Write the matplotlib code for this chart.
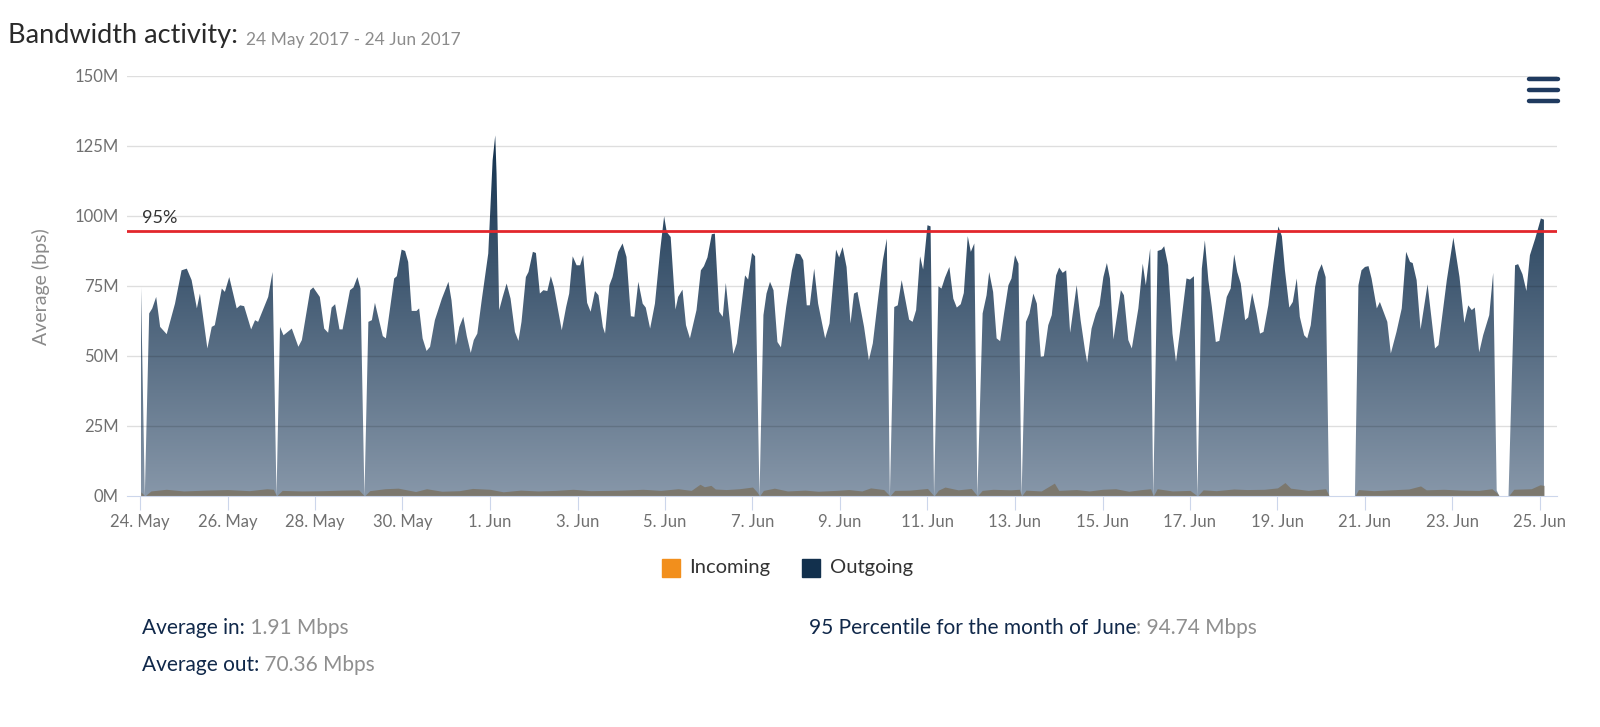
import datetime as dt
import numpy as np
import matplotlib
matplotlib.use('Agg')
import matplotlib.pyplot as plt
from matplotlib.colors import LinearSegmentedColormap
from matplotlib.patches import PathPatch, Rectangle
from matplotlib.lines import Line2D

plt.rcParams['font.family'] = ['Lato', 'DejaVu Sans']

# data: days since 24 May 2017 00:00, values in Mbps
start = dt.date(2017, 5, 24)

out_days = [
    0.02, 0.11, 0.21, 0.28, 0.37, 0.46, 0.61, 0.80, 0.95, 1.07, 1.18, 1.30, 1.37, 1.54, 1.64, 1.71,
    1.87, 1.94, 2.04, 2.21, 2.29, 2.38, 2.54, 2.63, 2.70, 2.93, 3.03, 3.12,
    3.20, 3.28, 3.47, 3.62, 3.70, 3.89, 3.96, 4.11, 4.21, 4.30, 4.38, 4.46, 4.56, 4.63, 4.80, 4.88,
    4.97, 5.04, 5.13,
    5.22, 5.30, 5.37, 5.55, 5.62, 5.81, 5.87, 5.98, 6.06, 6.13, 6.21, 6.32, 6.38, 6.46, 6.55, 6.63,
    6.74, 6.90, 7.05, 7.12, 7.22, 7.30, 7.39, 7.47, 7.56, 7.63, 7.71, 7.81, 7.96, 8.06, 8.12, 8.15,
    8.21, 8.29, 8.38, 8.47, 8.57, 8.65, 8.72, 8.82, 8.88, 8.98, 9.05, 9.14, 9.22, 9.31, 9.39, 9.46,
    9.64, 9.74, 9.81, 9.89, 9.98, 10.06, 10.13, 10.22, 10.30, 10.40, 10.48, 10.58, 10.63, 10.73,
    10.80, 10.93, 11.03, 11.12, 11.22, 11.30, 11.39, 11.49, 11.56, 11.66, 11.77, 11.89, 11.98,
    12.04, 12.13, 12.24, 12.30, 12.40, 12.48, 12.57, 12.72, 12.82, 12.89, 12.97, 13.07, 13.14,
    13.24, 13.32, 13.39, 13.56, 13.64, 13.83, 13.90, 13.99, 14.06, 14.16,
    14.25, 14.32, 14.40, 14.48, 14.57, 14.65, 14.77, 14.90, 14.99, 15.09, 15.16, 15.24, 15.31,
    15.41, 15.50, 15.66, 15.76, 15.91, 15.98, 16.06, 16.15, 16.24, 16.32, 16.40, 16.55, 16.66,
    16.75, 16.88, 16.98, 17.07, 17.14,
    17.24, 17.32, 17.41, 17.58, 17.66, 17.74, 17.83, 17.90, 18.00, 18.07, 18.15,
    18.25, 18.32, 18.40, 18.50, 18.59, 18.67, 18.76, 18.83, 18.92, 18.99, 19.07, 19.14,
    19.26, 19.35, 19.41, 19.50, 19.58, 19.66, 19.75, 19.85, 19.92, 20.00, 20.08, 20.15,
    20.25, 20.33, 20.42, 20.50, 20.59, 20.66, 20.76, 20.84, 20.94, 21.01, 21.09, 21.17, 21.26,
    21.41, 21.50, 21.60, 21.65, 21.75, 21.85, 21.93, 22.02, 22.10, 22.17, 22.25, 22.34, 22.42,
    22.49, 22.59, 22.67, 22.82, 22.92, 22.99, 23.09, 23.16,
    23.26, 23.35, 23.41, 23.50, 23.60, 23.68, 23.77, 23.92, 24.00, 24.09, 24.17,
    24.27, 24.34, 24.42, 24.50, 24.59, 24.67, 24.84, 24.93, 25.01, 25.08, 25.16, 25.26, 25.33,
    25.42, 25.52, 25.60, 25.68, 25.79, 25.90, 26.02, 26.10, 26.17, 26.27, 26.35, 26.44, 26.51,
    26.61, 26.68, 26.76, 26.86, 26.93, 27.01, 27.10, 27.18,
    27.77, 27.85, 27.92, 28.00, 28.08, 28.15, 28.27, 28.34, 28.51, 28.59, 28.72, 28.84, 28.94,
    29.03, 29.09, 29.18, 29.27, 29.43, 29.60, 29.68, 29.87, 30.02, 30.16, 30.27, 30.36, 30.44,
    30.51, 30.61, 30.70, 30.84, 30.93, 31.01, 31.07,
    31.28, 31.43, 31.50, 31.60, 31.69, 31.77, 31.89, 32.02, 32.09,
]
out_mbps = [
    77.1, 0, 65.2, 67.0, 71.1, 60.4, 57.8, 68.7, 80.6, 81.2, 77.1, 67.0, 72.3, 52.7, 60.4, 61.0,
    74.1, 72.9, 78.2, 67.0, 68.1, 67.8, 59.5, 62.8, 62.2, 71.1, 80.0, 0,
    60.4, 57.4, 59.8, 53.3, 55.7, 73.5, 74.5, 71.1, 59.8, 58.3, 67.3, 68.5, 59.5, 59.5, 73.5, 74.5,
    78.2, 74.1, 0,
    62.2, 62.8, 69.0, 57.1, 56.3, 77.7, 78.5, 88.0, 87.5, 83.6, 66.1, 66.1, 67.0, 56.3, 51.8, 53.3,
    62.8, 70.5, 76.5, 69.9, 53.9, 60.4, 64.0, 57.1, 51.1, 55.7, 58.0, 69.9, 86.6, 119.9, 128.8, 115.1,
    66.4, 71.1, 75.9, 70.5, 58.6, 55.4, 62.2, 78.2, 80.0, 87.2, 86.8, 72.3, 73.5, 73.2, 78.5, 74.7,
    59.2, 67.5, 72.3, 85.6, 82.4, 82.4, 86.0, 69.0, 65.8, 73.2, 71.7, 60.4, 58.0, 75.3,
    78.2, 87.2, 90.2, 85.4, 64.2, 64.0, 76.5, 68.7, 67.3, 59.8, 68.7, 87.8, 99.9,
    94.3, 92.5, 66.6, 71.1, 73.7, 61.0, 56.3, 66.4, 80.6, 82.1, 85.2, 93.5, 93.7,
    65.8, 64.0, 76.1, 50.7, 54.5, 78.8, 77.3, 86.8, 85.6, 0,
    64.6, 72.3, 76.5, 73.5, 55.0, 53.1, 67.5, 80.6, 86.6, 86.3, 84.2, 68.1, 68.1,
    81.2, 68.7, 56.3, 61.6, 88.0, 85.2, 88.9, 81.8, 61.6, 72.3, 72.9, 60.4, 48.5,
    54.5, 71.7, 84.2, 91.9, 0,
    67.5, 68.1, 77.1, 63.0, 62.2, 66.4, 85.6, 80.9, 96.7, 96.3, 0,
    74.9, 74.1, 78.0, 81.8, 70.5, 67.3, 68.5, 72.5, 92.8, 87.2, 90.2, 0,
    65.2, 71.7, 80.0, 72.9, 56.3, 55.3, 65.2, 75.3, 77.7, 86.0, 83.0, 0,
    62.2, 65.2, 72.3, 68.7, 49.7, 49.9, 61.0, 64.6, 78.8, 81.6, 79.7, 80.6, 58.3,
    75.3, 62.8, 52.1, 47.6, 59.8, 65.2, 68.1, 78.2, 83.2, 77.7, 55.9, 65.2, 73.5,
    71.7, 55.7, 52.7, 67.0, 83.0, 75.3, 88.4, 0,
    87.5, 88.0, 89.2, 82.4, 58.0, 47.9, 58.6, 77.7, 77.3, 78.5, 0,
    81.2, 91.3, 77.1, 67.5, 55.0, 55.4, 71.1, 74.1, 86.3, 80.0, 75.9, 62.8, 63.8,
    72.5, 65.2, 58.0, 58.6, 68.1, 82.4, 96.3, 92.8, 80.6, 67.3, 69.3, 77.7, 64.0,
    57.4, 56.3, 61.0, 74.7, 80.0, 82.8, 78.2, 0,
    0, 75.3, 80.6, 81.8, 82.1, 77.7, 67.0, 69.3, 62.2, 50.9, 58.6, 67.0, 87.2,
    83.6, 83.2, 77.1, 59.5, 75.6, 52.7, 53.9, 77.1, 92.3, 78.2, 61.8, 68.1, 66.4,
    67.3, 51.3, 57.4, 64.6, 79.7, 2.0, 0,
    0, 82.4, 82.8, 79.2, 73.2, 86.0, 91.9, 99.1, 98.7,
]

in_days = [
    0.02, 0.11, 0.25, 0.6, 1.0, 1.5, 2.0, 2.5, 2.9, 3.05, 3.12, 3.25, 3.7, 4.2, 4.6, 5.0, 5.13,
    5.25, 5.6, 5.9, 6.3, 6.55, 6.9, 7.3, 7.6, 8.0, 8.3, 8.7, 9.1, 9.5, 9.9, 10.3, 10.7, 11.0,
    11.5, 11.9, 12.3, 12.6, 12.8, 12.9, 13.05, 13.15, 13.4, 13.7, 14.0, 14.1, 14.16,
    14.25, 14.5, 14.8, 15.2, 15.5, 15.9, 16.2, 16.5, 16.7, 17.0, 17.14,
    17.25, 17.6, 18.0, 18.15, 18.25, 18.4, 18.7, 19.0, 19.14, 19.25, 19.5, 19.9, 20.1, 20.15,
    20.25, 20.6, 20.9, 21.0, 21.4, 21.7, 22.0, 22.3, 22.6, 22.9, 23.1, 23.16,
    23.25, 23.6, 24.0, 24.17, 24.3, 24.6, 25.0, 25.3, 25.7, 26.0, 26.17, 26.3, 26.7, 27.1, 27.18,
    27.77, 27.85, 28.2, 28.6, 29.0, 29.27, 29.4, 29.8, 30.2, 30.6, 30.9, 31.01, 31.07,
    31.28, 31.4, 31.8, 32.0, 32.09,
]
in_mbps = [
    1.5, 0, 1.8, 2.4, 1.8, 2.1, 2.3, 1.9, 2.6, 2.4, 0, 2.0, 1.8, 1.9, 2.1, 2.2, 0,
    1.9, 2.6, 2.8, 1.6, 2.6, 1.7, 1.9, 2.7, 2.4, 1.5, 2.1, 1.8, 2.0, 2.4, 1.9, 2.0, 2.1,
    2.4, 2.0, 2.6, 2.0, 4.2, 3.3, 3.8, 2.5, 2.3, 2.6, 3.2, 1.5, 0,
    2.0, 2.8, 1.8, 2.1, 1.7, 2.0, 2.3, 1.8, 2.9, 2.3, 0,
    2.0, 2.1, 2.7, 0, 2.1, 3.2, 2.2, 2.7, 0, 2.0, 2.4, 2.2, 2.4, 0,
    2.1, 1.8, 4.6, 2.0, 2.3, 1.8, 2.4, 2.6, 1.7, 2.3, 2.6, 0,
    2.6, 1.8, 2.0, 0, 2.2, 1.9, 2.5, 2.3, 2.4, 2.9, 4.8, 2.8, 2.0, 2.6, 0,
    0, 2.3, 1.9, 2.2, 2.5, 3.6, 2.2, 2.4, 2.1, 2.0, 2.6, 1.2, 0,
    0, 2.4, 2.6, 4.0, 3.8,
]

p95 = 94.74
avg_in = 1.91
avg_out = 70.36

tick_days = list(range(0, 33, 2))
tick_labels = []
for d in tick_days:
    day = start + dt.timedelta(days=d)
    tick_labels.append(f"{day.day}. {day:%b}")
y_ticks = [0, 25, 50, 75, 100, 125, 150]
y_labels = [f"{v}M" for v in y_ticks]

W, H = 1600, 727
fig = plt.figure(figsize=(16, 7.27), dpi=100)
ax = fig.add_axes([127 / W, 1 - 496 / H, (1557 - 127) / W, (496 - 76) / H])

# grid lines (semi transparent so they show through the area)
for v in y_ticks[1:]:
    ax.axhline(v, color='black', alpha=0.13, lw=1, zorder=4)

# outgoing area with vertical gradient
x = np.array(out_days)
y = np.array(out_mbps)
area = ax.fill_between(x, 0, y, facecolor='none', edgecolor='none')
cmap = LinearSegmentedColormap.from_list('bw', ['#8797a9', '#12304d'])
grad = np.linspace(0, 1, 256).reshape(-1, 1)
im = ax.imshow(grad, extent=[x.min(), x.max(), 0, 130], origin='lower',
               aspect='auto', cmap=cmap, zorder=2, interpolation='bilinear')
clip = PathPatch(area.get_paths()[0], transform=ax.transData, facecolor='none', edgecolor='none')
ax.add_patch(clip)
im.set_clip_path(clip)

# incoming
ax.fill_between(in_days, 0, in_mbps, color='#7c786e', lw=0, zorder=3)

# 95 percentile line
ax.axhline(p95, color='#e2262c', lw=2, zorder=6)
ax.text(0.04, p95 + 1.6, '95%', fontsize=13, color='#333333', va='bottom', ha='left', zorder=6)

ax.set_xlim((127 - 140) / 43.75, (1557 - 140) / 43.75)
ax.set_ylim(0, 150)
for s in ['top', 'right', 'left']:
    ax.spines[s].set_visible(False)
ax.spines['bottom'].set_color('#ccd6eb')
ax.spines['bottom'].set_zorder(7)

ax.set_xticks(tick_days)
ax.set_xticklabels(tick_labels)
ax.set_yticks(y_ticks)
ax.set_yticklabels(y_labels)
ax.tick_params(axis='x', length=10, color='#ccd6eb', labelcolor='#707070', labelsize=12, pad=3)
ax.tick_params(axis='y', length=0, labelcolor='#707070', labelsize=12, pad=6)

fig.text(41 / W, 1 - 287 / H, 'Average (bps)', rotation=90, fontsize=14, color='#8a8a8a',
         ha='center', va='center')

# title
title = fig.text(8 / W, 1 - 43.5 / H, 'Bandwidth activity:', fontsize=19.5, color='#2a2a2a',
                 va='baseline', ha='left')
ax.annotate('24 May 2017 - 24 Jun 2017', xy=(1, 0), xycoords=title, xytext=(8, 0),
            textcoords='offset pixels', va='bottom', ha='left', fontsize=12.5,
            color='#8c8c8c', annotation_clip=False)

# menu icon
for yy in (79, 90, 101):
    fig.add_artist(Line2D([1529 / W, 1558 / W], [1 - yy / H] * 2, color='#1f3a5f', lw=3.2,
                          solid_capstyle='round', transform=fig.transFigure))

# legend
fig.add_artist(Rectangle((662 / W, 1 - 577 / H), 18 / W, 18 / H, color='#f28f1c',
                         transform=fig.transFigure))
fig.text(689 / W, 1 - 568 / H, 'Incoming', fontsize=14.5, color='#333333', va='center')
fig.add_artist(Rectangle((802 / W, 1 - 577 / H), 18 / W, 18 / H, color='#12304d',
                         transform=fig.transFigure))
fig.text(830 / W, 1 - 568 / H, 'Outgoing', fontsize=14.5, color='#333333', va='center')

# summary text
navy = '#10284a'
grey = '#8f8f8f'
rows = [
    (142, 628, 'Average in:', f' {avg_in:.2f} Mbps'),
    (142, 665, 'Average out:', f' {avg_out:.2f} Mbps'),
    (809, 628, '95 Percentile for the month of June', f': {p95:.2f} Mbps'),
]
for px, py, label, value in rows:
    t = fig.text(px / W, 1 - py / H, label, fontsize=15, color=navy, va='center', ha='left')
    ax.annotate(value, xy=(1, 0), xycoords=t, va='bottom', ha='left', fontsize=15,
                color=grey, annotation_clip=False)

fig.savefig('out.png', dpi=100)
